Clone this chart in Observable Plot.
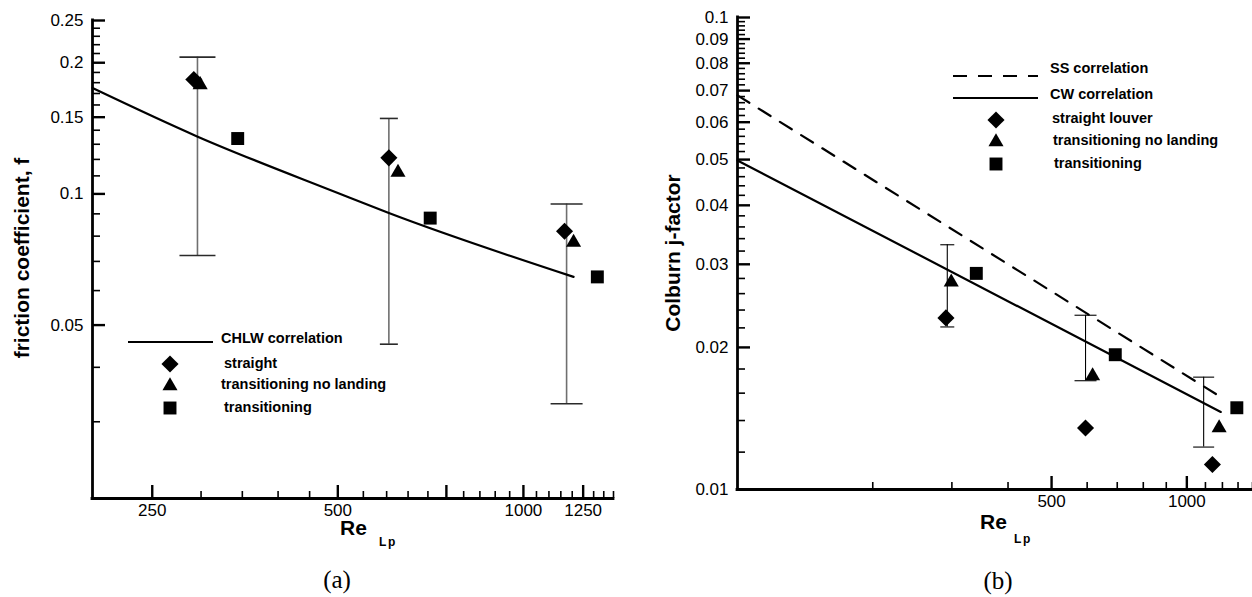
<!DOCTYPE html>
<html>
<head>
<meta charset="utf-8">
<script src="https://cdn.jsdelivr.net/npm/d3@7"></script>
<script src="https://cdn.jsdelivr.net/npm/@observablehq/plot@0.6"></script>
<style>
  html, body { margin: 0; padding: 0; background: #fff; }
  #page { position: relative; width: 1252px; height: 597px; overflow: hidden; }
  #page svg { position: absolute; top: 0; }
</style>
</head>
<body>
<div id="page"></div>
<script>
// ---------- (a) friction coefficient f vs Re_Lp ----------
const reStraightA   = [292, 605, 1166];
const fStraightA    = [0.183, 0.121, 0.0821];
const reNoLandingA  = [299, 626, 1206];
const fNoLandingA   = [0.178, 0.112, 0.0774];
const reTransA      = [344, 706, 1318];
const fTransA       = [0.134, 0.088, 0.0645];
const reErrA        = [296, 605, 1175];
const fErrLowA      = [0.0722, 0.0452, 0.033];
const fErrHighA     = [0.206, 0.149, 0.0948];
const reChlw        = [200, 295, 500, 605, 1206];
const fChlw         = [0.175, 0.1357, 0.1005, 0.0904, 0.0645];
const xDomainA      = [200, 1400];
const yDomainA      = [0.02, 0.25];
const xTickLabelsA  = [250, 500, 750, 1000, 1250];
const yTickLabelsA  = [0.05, 0.1, 0.15, 0.2, 0.25];
const legendLabelsA = ["CHLW correlation", "straight", "transitioning no landing", "transitioning"];

// ---------- (b) Colburn j-factor vs Re_Lp ----------
const reStraightB   = [291, 595, 1140];
const jStraightB    = [0.0231, 0.0135, 0.0113];
const reNoLandingB  = [299, 617, 1180];
const jNoLandingB   = [0.0275, 0.0174, 0.0135];
const reTransB      = [340, 693, 1292];
const jTransB       = [0.0287, 0.0193, 0.0149];
const reErrB        = [293, 595, 1090];
const jErrLowB      = [0.0221, 0.0170, 0.0123];
const jErrHighB     = [0.0330, 0.0234, 0.0173];
const reSS          = [100, 1190];
const jSS           = [0.0684, 0.0157];
const reCW          = [100, 1190];
const jCW           = [0.0498, 0.0146];
const xDomainB      = [100, 1400];
const yDomainB      = [0.01, 0.1];
const xTickLabelsB  = [500, 1000];
const yTickLabelsB  = [0.01, 0.02, 0.03, 0.04, 0.05, 0.06, 0.07, 0.08, 0.09, 0.1];
const legendLabelsB = ["SS correlation", "CW correlation", "straight louver", "transitioning no landing", "transitioning"];

// ---------- shared styling ----------
const FONT = "'Liberation Sans', Arial, Helvetica, sans-serif";
const SERIF = "'Liberation Serif', 'Times New Roman', serif";
const W = 626, H = 597;

const pts = (xs, ys) => xs.map((x, i) => ({x, y: ys[i]}));
const bars = (xs, lo, hi) => xs.map((x, i) => ({x, lo: lo[i], hi: hi[i]}));

// whisker cap drawn as a dot symbol: a horizontal stroke of half-width r
const capSymbol = {
  draw(ctx, size) {
    const w = Math.sqrt(size / Math.PI);
    ctx.moveTo(-w, 0);
    ctx.lineTo(w, 0);
  }
};

const MARKERS = {
  diamond:  {symbol: "diamond2", r: 7.7, d3: d3.symbolDiamond2},
  triangle: {symbol: "triangle", r: 5.6, d3: d3.symbolTriangle},
  square:   {symbol: "square",   r: 7.3, d3: d3.symbolSquare}
};

function markerDots(data, kind) {
  const m = MARKERS[kind];
  return Plot.dot(data, {x: "x", y: "y", symbol: m.symbol, r: m.r, fill: "black"});
}

function errorBars(data, capHalfWidths, barStroke, capStroke, width) {
  const marks = [Plot.ruleX(data, {x: "x", y1: "lo", y2: "hi", stroke: barStroke, strokeWidth: width})];
  data.forEach((d, i) => {
    for (const key of ["lo", "hi"]) {
      marks.push(Plot.dot([d], {x: "x", y: key, symbol: capSymbol, r: capHalfWidths[i],
        fill: "none", stroke: capStroke, strokeWidth: width}));
    }
  });
  return marks;
}

// Inward ticks: tick marks span the frame and are inset down to their length.
// Labels sit outside the frame; the axis itself is a heavy L-shaped pair of rules.
function axisMarks({frameW, frameH, xDomain, yDomain, xMinor, xMajor, yMinor, yMajor, xLabels, yLabels}) {
  const fmt = d => String(d);
  return [
    Plot.tickX(xMinor, {insetTop: frameH - 7, stroke: "black", strokeWidth: 1.6}),
    Plot.tickX(xMajor, {insetTop: frameH - 13, stroke: "black", strokeWidth: 2.4}),
    Plot.tickY(yMinor, {insetRight: frameW - 8, stroke: "black", strokeWidth: 1.6}),
    Plot.tickY(yMajor, {insetRight: frameW - 13, stroke: "black", strokeWidth: 2.4}),
    Plot.axisX(xLabels, {tickSize: 0, tickPadding: 5, fontSize: 17, label: null, tickFormat: fmt}),
    Plot.axisY(yLabels, {tickSize: 0, tickPadding: 9, fontSize: 17, label: null, tickFormat: fmt}),
    Plot.ruleX([xDomain[0]], {strokeWidth: 2.8, strokeLinecap: "square"}),
    Plot.ruleY([yDomain[0]], {strokeWidth: 2.8, strokeLinecap: "square"})
  ];
}

function drawLegend(svg, entries, symbolX, lineX1, lineX2) {
  const g = d3.select(svg).append("g")
    .attr("font-family", FONT).attr("font-size", 14.5).attr("font-weight", "bold")
    .attr("fill", "black").attr("text-anchor", "start");
  for (const e of entries) {
    if (e.kind === "line") {
      g.append("line")
        .attr("x1", lineX1).attr("x2", lineX2).attr("y1", e.y).attr("y2", e.y)
        .attr("stroke", "black").attr("stroke-width", 2.2)
        .attr("stroke-dasharray", e.dash || null);
    } else {
      const m = MARKERS[e.kind];
      g.append("path")
        .attr("d", d3.symbol(m.d3, Math.PI * m.r * m.r)())
        .attr("transform", `translate(${symbolX},${e.y})`);
    }
    g.append("text").attr("x", e.tx).attr("y", e.ty).attr("dy", "0.35em").text(e.label);
  }
}

function drawTitles(svg, {yTitle, yTitleX, yTitleY, reX, reY, subL, subP, subY, caption, captionX, captionY}) {
  const s = d3.select(svg);
  s.append("text")
    .attr("transform", `translate(${yTitleX},${yTitleY}) rotate(-90)`)
    .attr("text-anchor", "middle").attr("dy", "0.35em")
    .attr("font-family", FONT).attr("font-size", 21).attr("font-weight", "bold")
    .text(yTitle);
  const t = s.append("g").attr("text-anchor", "start")
    .attr("font-family", FONT).attr("font-weight", "bold");
  t.append("text").attr("x", reX).attr("y", reY).attr("font-size", 21).text("Re");
  t.append("text").attr("x", subL).attr("y", subY).attr("font-size", 12).text("L");
  t.append("text").attr("x", subP).attr("y", subY).attr("font-size", 12).text("p");
  s.append("text").attr("x", captionX).attr("y", captionY).attr("text-anchor", "middle")
    .attr("font-family", SERIF).attr("font-size", 25).text(caption);
}

const page = document.getElementById("page");

// ---------- panel (a) ----------
const mA = {left: 92, right: 13, top: 20, bottom: 99};
const errA = bars(reErrA, fErrLowA, fErrHighA);
const plotA = Plot.plot({
  width: W, height: H,
  marginLeft: mA.left, marginRight: mA.right, marginTop: mA.top, marginBottom: mA.bottom,
  style: {fontFamily: FONT, background: "white", overflow: "visible"},
  x: {type: "log", domain: xDomainA},
  y: {type: "log", domain: yDomainA},
  marks: [
    ...axisMarks({
      frameW: W - mA.left - mA.right, frameH: H - mA.top - mA.bottom,
      xDomain: xDomainA, yDomain: yDomainA,
      xMinor: d3.range(250, 1401, 50).filter(v => !xTickLabelsA.includes(v)),
      xMajor: xTickLabelsA,
      yMinor: d3.range(3, 26).map(i => i / 100).filter(v => !yTickLabelsA.includes(v)),
      yMajor: yTickLabelsA,
      xLabels: xTickLabelsA, yLabels: yTickLabelsA
    }),
    ...errorBars(errA, [18, 9, 16], "#6f6f6f", "#2a2a2a", 1.6),
    Plot.line(pts(reChlw, fChlw), {x: "x", y: "y", stroke: "black", strokeWidth: 2.2, curve: "monotone-x"}),
    markerDots(pts(reStraightA, fStraightA), "diamond"),
    markerDots(pts(reNoLandingA, fNoLandingA), "triangle"),
    markerDots(pts(reTransA, fTransA), "square")
  ]
});
plotA.style.left = "0px";
drawLegend(plotA, [
  {kind: "line", y: 342, tx: 221, ty: 338, label: legendLabelsA[0]},
  {kind: "diamond", y: 364, tx: 224, ty: 363, label: legendLabelsA[1]},
  {kind: "triangle", y: 386, tx: 221, ty: 384, label: legendLabelsA[2]},
  {kind: "square", y: 408, tx: 224, ty: 407, label: legendLabelsA[3]}
], 170, 128, 213);
drawTitles(plotA, {
  yTitle: "friction coefficient, f", yTitleX: 22, yTitleY: 258,
  reX: 340, reY: 535, subL: 379, subP: 388, subY: 546,
  caption: "(a)", captionX: 337, captionY: 588
});
page.appendChild(plotA);

// ---------- panel (b) ----------
const mB = {left: 111, right: 0, top: 17, bottom: 108};
const errB = bars(reErrB, jErrLowB, jErrHighB);
const plotB = Plot.plot({
  width: W, height: H,
  marginLeft: mB.left, marginRight: mB.right, marginTop: mB.top, marginBottom: mB.bottom,
  style: {fontFamily: FONT, background: "white", overflow: "visible"},
  x: {type: "log", domain: xDomainB},
  y: {type: "log", domain: yDomainB},
  marks: [
    ...axisMarks({
      frameW: W - mB.left - mB.right, frameH: H - mB.top - mB.bottom,
      xDomain: xDomainB, yDomain: yDomainB,
      xMinor: d3.range(200, 1401, 100).filter(v => !xTickLabelsB.includes(v)),
      xMajor: xTickLabelsB,
      yMinor: d3.range(6, 51).map(i => +(i * 0.002).toFixed(3)).filter(v => !yTickLabelsB.includes(v)),
      yMajor: yTickLabelsB,
      xLabels: xTickLabelsB, yLabels: yTickLabelsB
    }),
    ...errorBars(errB, [7, 11, 10.5], "black", "black", 1.1),
    Plot.line(pts(reSS, jSS), {x: "x", y: "y", stroke: "black", strokeWidth: 2.2, strokeDasharray: "14,11"}),
    Plot.line(pts(reCW, jCW), {x: "x", y: "y", stroke: "black", strokeWidth: 2.2}),
    markerDots(pts(reStraightB, jStraightB), "diamond"),
    markerDots(pts(reNoLandingB, jNoLandingB), "triangle"),
    markerDots(pts(reTransB, jTransB), "square")
  ]
});
plotB.style.left = "626px";
drawLegend(plotB, [
  {kind: "line", dash: "14,11", y: 76, tx: 424, ty: 68, label: legendLabelsB[0]},
  {kind: "line", y: 98, tx: 424, ty: 94, label: legendLabelsB[1]},
  {kind: "diamond", y: 120, tx: 426, ty: 118, label: legendLabelsB[2]},
  {kind: "triangle", y: 142, tx: 427, ty: 140, label: legendLabelsB[3]},
  {kind: "square", y: 164, tx: 428, ty: 163, label: legendLabelsB[4]}
], 370, 327, 412);
drawTitles(plotB, {
  yTitle: "Colburn j-factor", yTitleX: 47, yTitleY: 253,
  reX: 354, reY: 529, subL: 388, subP: 397, subY: 543,
  caption: "(b)", captionX: 372, captionY: 589
});
page.appendChild(plotB);
</script>
</body>
</html>
